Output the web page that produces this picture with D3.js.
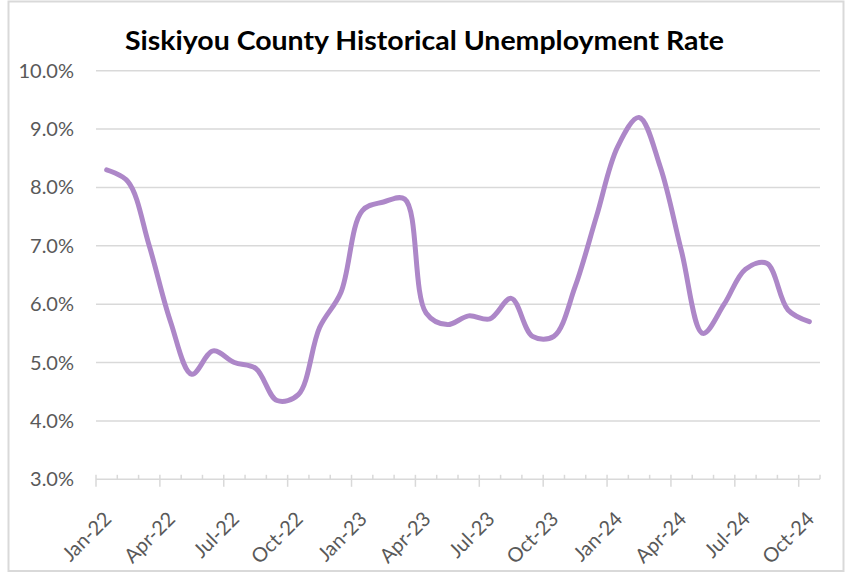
<!DOCTYPE html>
<html>
<head>
<meta charset="utf-8">
<script src="https://cdn.jsdelivr.net/npm/d3@7"></script>
<style>
  html, body { margin: 0; padding: 0; background: #fff; }
  svg { display: block; }
</style>
</head>
<body>
<svg id="chart" width="848" height="573"></svg>
<script>
const months = ["Jan-22","Feb-22","Mar-22","Apr-22","May-22","Jun-22","Jul-22","Aug-22","Sep-22","Oct-22","Nov-22","Dec-22",
                "Jan-23","Feb-23","Mar-23","Apr-23","May-23","Jun-23","Jul-23","Aug-23","Sep-23","Oct-23","Nov-23","Dec-23",
                "Jan-24","Feb-24","Mar-24","Apr-24","May-24","Jun-24","Jul-24","Aug-24","Sep-24","Oct-24"];
const rates = [8.3, 8.1, 7.0, 5.7, 4.8, 5.2, 5.0, 4.9, 4.35, 4.45, 5.6, 6.2,
               7.6, 7.75, 7.8, 5.85, 5.65, 5.8, 5.75, 6.1, 5.45, 5.45, 6.3, 7.5,
               8.7, 9.2, 8.35, 6.9, 5.5, 6.0, 6.6, 6.7, 5.9, 5.7];
const yTicks = [3, 4, 5, 6, 7, 8, 9, 10];
const labelMonths = ["Jan-22","Apr-22","Jul-22","Oct-22","Jan-23","Apr-23","Jul-23","Oct-23","Jan-24","Apr-24","Jul-24","Oct-24"];
const title = "Siskiyou County Historical Unemployment Rate";

(function () {
const svg = d3.select("#chart");
const pLeft = 96, pRight = 820, pTop = 70.7, pBottom = 479.3;

// outer border
svg.append("rect").attr("x", 8.5).attr("y", 1.5).attr("width", 835).attr("height", 569.5)
  .attr("fill", "#fff").attr("stroke", "#d9d9d9").attr("stroke-width", 2);

const x = d3.scaleBand().domain(months).range([pLeft, pRight]).padding(0);
const y = d3.scaleLinear().domain([3, 10]).range([pBottom, pTop]);

// gridlines
svg.append("g").selectAll("line").data(yTicks.filter(d => d > 3)).join("line")
  .attr("x1", pLeft).attr("x2", pRight)
  .attr("y1", d => y(d)).attr("y2", d => y(d))
  .attr("stroke", "#d9d9d9").attr("stroke-width", 1.5);

// y labels
svg.append("g").selectAll("text").data(yTicks).join("text")
  .attr("x", 74).attr("y", d => y(d)).attr("dy", "0.35em")
  .attr("text-anchor", "end")
  .attr("font-family", "Lato, 'Open Sans', sans-serif").attr("font-size", 20)
  .attr("fill", "#595959")
  .text(d => d3.format(".1f")(d) + "%");

// x axis line
svg.append("line").attr("x1", pLeft).attr("x2", pRight).attr("y1", pBottom).attr("y2", pBottom)
  .attr("stroke", "#d9d9d9").attr("stroke-width", 1.5);

// ticks at band boundaries
const boundaries = d3.range(months.length + 1);
const bx = i => i < months.length ? x(months[i]) : x(months[months.length-1]) + x.bandwidth();
svg.append("g").selectAll("line").data(boundaries).join("line")
  .attr("x1", bx).attr("x2", bx)
  .attr("y1", pBottom - 4.5)
  .attr("y2", i => (i % 3 === 0) ? pBottom + 7.5 : pBottom)
  .attr("stroke", "#d9d9d9").attr("stroke-width", 1.5);

// x labels
svg.append("g").selectAll("text").data(labelMonths).join("text")
  .attr("transform", d => `translate(${x(d) + x.bandwidth()/2 + 6},${pBottom + 41}) rotate(-45)`)
  .attr("text-anchor", "end")
  .attr("font-family", "Lato, 'Open Sans', sans-serif").attr("font-size", 20)
  .attr("fill", "#595959")
  .text(d => d);

// line
const line = d3.line()
  .x((d, i) => x(months[i]) + x.bandwidth()/2)
  .y(d => y(d))
  .curve(d3.curveCatmullRom.alpha(0.5));
svg.append("path").datum(rates)
  .attr("d", line)
  .attr("fill", "none")
  .attr("stroke", "#ad87c8")
  .attr("stroke-width", 5)
  .attr("stroke-linecap", "round")
  .attr("stroke-linejoin", "round");

// title
svg.append("text")
  .attr("x", 125).attr("y", 50)
  .attr("font-family", "Lato, 'Open Sans', sans-serif").attr("font-weight", "bold")
  .attr("font-size", 26)
  .attr("textLength", 599).attr("lengthAdjust", "spacingAndGlyphs")
  .attr("fill", "#000")
  .text(title);
})();
</script>
</body>
</html>
